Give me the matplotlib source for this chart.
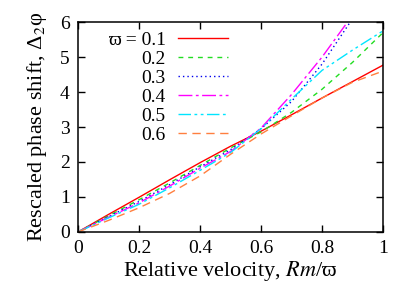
import matplotlib
matplotlib.use("Agg")
import matplotlib.pyplot as plt

plt.rcParams['font.family'] = ['Liberation Serif', 'DejaVu Serif']
plt.rcParams['mathtext.fontset'] = 'stix'

# data
x = [0.0, 0.1, 0.2, 0.3, 0.4, 0.5, 0.6, 0.7, 0.8, 0.9, 1.0]
y_01 = [0.0, 0.50, 0.99, 1.49, 1.98, 2.45, 2.88, 3.35, 3.83, 4.30, 4.77]
y_02 = [0.0, 0.46, 0.92, 1.40, 1.90, 2.40, 2.86, 3.42, 4.08, 4.85, 5.70]
y_03 = [0.0, 0.44, 0.87, 1.35, 1.86, 2.35, 2.95, 3.73, 4.80, 6.10, 7.40]
y_04 = [0.0, 0.42, 0.83, 1.31, 1.82, 2.30, 2.97, 3.93, 5.00, 6.20, 7.40]
y_05 = [0.0, 0.40, 0.79, 1.26, 1.76, 2.27, 2.95, 3.80, 4.62, 5.20, 5.75]
y_06 = [0.0, 0.33, 0.69, 1.10, 1.60, 2.22, 2.80, 3.32, 3.83, 4.28, 4.60]

labels = ['ϖ = 0.1', '0.2', '0.3', '0.4', '0.5', '0.6']
colors = ['#ff0000', '#22dd22', '#0000ee', '#ff00ff', '#00e5ff', '#ff7f3f']
dashes = [None, (3.5, 3.5), (1, 2.2), (10, 2.5, 2, 2.5), (9, 2.5, 2, 2.5, 2, 2.5), (6, 4)]

xticks = [0, 0.2, 0.4, 0.6, 0.8, 1]
xticklabels = ['0', '0.2', '0.4', '0.6', '0.8', '1']
yticks = [0, 1, 2, 3, 4, 5, 6]

fig = plt.figure(figsize=(4.15, 2.91), dpi=100)
ax = fig.add_axes([0.188, 0.203, 0.735, 0.721])

series = [y_01, y_02, y_03, y_04, y_05, y_06]
for ys, lab, c, d in zip(series, labels, colors, dashes):
    line, = ax.plot(x, ys, color=c, lw=1.0, label=lab)
    if d is not None:
        line.set_dashes(d)

ax.set_xlim(0, 1)
ax.set_ylim(0, 6)
ax.set_xticks(xticks)
ax.set_xticklabels(xticklabels)
ax.set_yticks(yticks)
ax.tick_params(direction='in', top=True, right=True, length=5, width=1,
               labelsize=14, pad=6)
for s in ax.spines.values():
    s.set_linewidth(1.1)

ax.set_xlabel('Relative velocity, $\\mathit{Rm}$/ϖ', fontsize=16, labelpad=1)
ax.set_ylabel('Rescaled phase shift, Δ$_2$φ', fontsize=16, labelpad=8)

ax.legend(loc='upper right', bbox_to_anchor=(0.492, 0.958), frameon=False,
          markerfirst=False, alignment='right', fontsize=14,
          handlelength=2.6, handletextpad=0.6, labelspacing=0.075,
          borderpad=0, borderaxespad=0)

fig.savefig('out.png', dpi=100)
